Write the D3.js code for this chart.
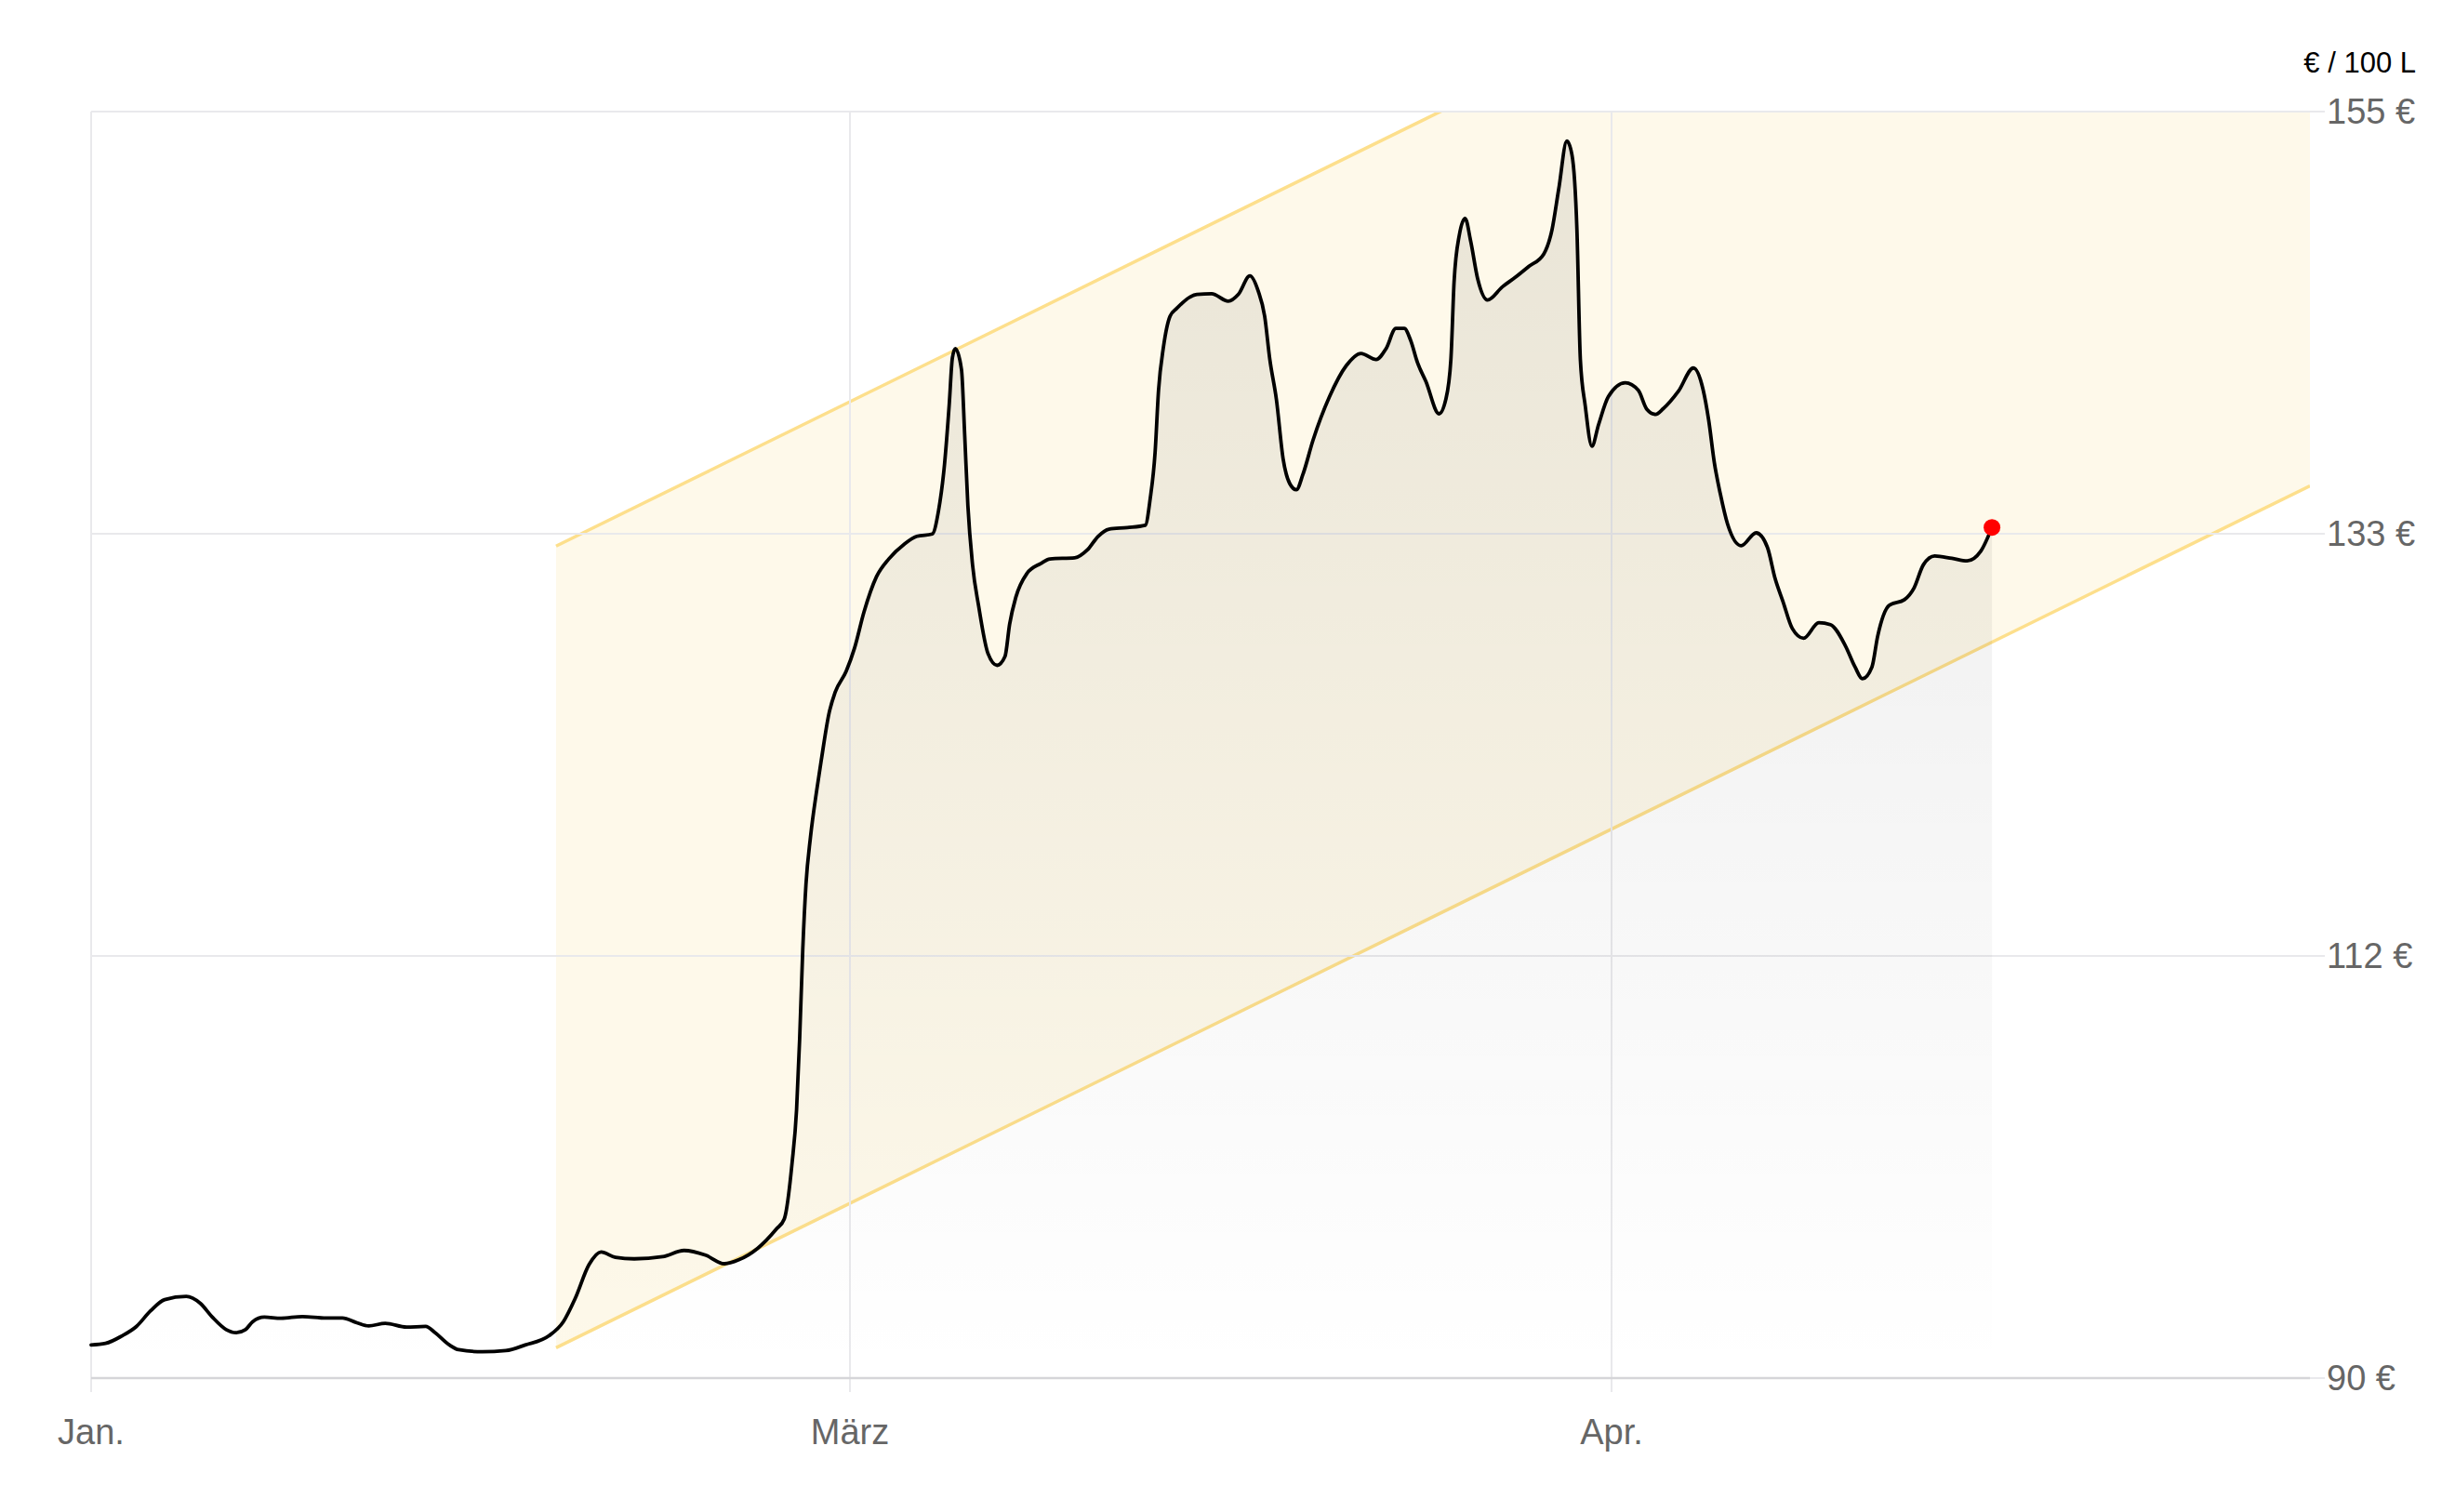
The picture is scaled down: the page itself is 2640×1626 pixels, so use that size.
<!DOCTYPE html>
<html><head><meta charset="utf-8">
<script src="https://cdn.jsdelivr.net/npm/d3@7"></script>
<style>
body{margin:0;background:#fff}
svg{display:block}
text{font-family:"Liberation Sans",Arial,sans-serif}
</style>
</head><body>
<svg id="chart" width="2640" height="1626"></svg>
<script>
// ---- data (day index since 1 Jan, price in € / 100 L) ----
const days = [0,1.12,2.41,3.52,4.62,5.72,7.40,8.48,9.42,10.50,11.26,12.00,12.55,13.47,14.76,16.43,18.26,19.54,20.66,21.58,22.87,24.52,26.01,26.75,27.86,28.57,30.42,32.25,33.75,35.59,36.71,37.63,38.72,39.65,40.76,42.23,44.44,46.10,47.77,49.24,50.35,51.82,53.29,53.89,54.50,54.85,55.09,55.33,55.58,55.93,56.42,56.77,57.38,57.85,58.71,59.19,59.57,60.08,60.58,61.21,61.72,62.35,62.60,62.85,63.04,63.17,63.29,63.54,63.67,63.80,63.99,64.24,64.62,64.99,65.31,65.50,65.75,66.20,66.76,67.14,68.15,68.66,69.10,69.54,70.29,71.02,71.22,71.42,71.56,71.76,72.03,72.30,73.12,73.72,74.40,74.81,75.28,75.62,75.88,76.09,76.36,76.63,76.90,77.17,77.44,77.85,78.52,79.20,79.80,80.42,80.82,81.22,81.56,81.83,82.10,82.44,82.98,83.25,83.46,83.59,83.80,84.04,84.27,84.55,84.95,85.56,86.09,86.63,87.24,87.58,87.85,88.18,88.39,88.59,88.73,88.93,89.20,89.47,89.87,90.56,91.09,91.43,91.79,92.10,92.72,93.33,93.72,93.95,94.18,94.42,94.72,95.27,95.88,96.34,96.65,96.97,97.35,97.81,98.43,98.90,99.51,99.90,100.20,100.59,100.82,101.29,101.91,102.30,102.68,103.14,103.84,104.46,105.01,105.47];
const prices = [91.70,91.78,92.17,92.65,93.45,94.03,94.19,93.84,93.13,92.49,92.33,92.49,92.89,93.13,93.07,93.16,93.08,93.08,92.84,92.68,92.81,92.62,92.65,92.33,91.70,91.46,91.35,91.41,91.70,92.17,92.89,94.08,95.83,96.47,96.20,96.12,96.23,96.55,96.31,95.87,96.07,96.66,97.66,98.16,101.04,103.78,107.43,111.98,115.33,117.76,120.19,121.71,124.14,125.20,126.28,127.48,129.31,131.13,132.04,132.80,133.20,133.32,134.48,136.91,139.95,142.37,142.83,141.76,138.42,134.78,131.74,129.61,127.18,126.58,127.03,128.70,130.07,131.29,131.80,132.04,132.10,132.50,133.20,133.57,133.65,133.77,135.12,137.50,140.69,142.91,144.50,144.90,145.62,145.65,145.27,145.62,146.57,145.78,144.50,142.28,140.21,137.19,135.91,135.59,136.39,138.14,140.37,141.96,142.59,142.28,142.83,143.87,143.87,143.23,142.12,141.16,139.49,140.21,142.28,146.26,148.64,149.52,148.32,146.42,145.33,146.01,146.50,147.05,147.69,148.96,151.03,153.49,152.77,148.96,142.28,139.89,137.83,138.93,140.37,141.08,140.69,139.73,139.46,139.75,140.65,141.84,140.74,139.16,136.98,135.40,133.82,132.72,133.38,132.63,131.04,129.86,128.47,127.97,128.77,128.67,127.58,126.50,125.89,126.50,128.07,129.66,129.95,130.55,131.74,132.19,132.07,131.94,132.43,133.66];

const xTickDays = [0, 59, 90];
const xTickLabels = ["Jan.", "März", "Apr."];
const xDomain = [0, 59, 90, 118.4];
const yDomain = [90, 155];
const yTicks = [90, 90 + 65/3, 90 + 130/3, 155];
const unitLabel = "€ / 100 L";

// trend channel: [day, lower value], upper = lower + width
const channelDays = [36.15, 118.4];
const channelLower = [91.56, 135.79];
const channelUpper = [132.70, 176.93];

// ---- layout ----
const L = 98, R = 2484, T = 120, B = 1482;
const svg = d3.select("#chart");

const x = d3.scaleLinear().domain(xDomain).range([L, 914, 1733, R]);
const y = d3.scaleLinear().domain(yDomain).range([B, T]);

const defs = svg.append("defs");
defs.append("clipPath").attr("id", "plotclip")
  .append("rect").attr("x", L).attr("y", T).attr("width", R - L).attr("height", B - T);
const grad = defs.append("linearGradient").attr("id", "areaGrad")
  .attr("gradientUnits", "userSpaceOnUse").attr("x1", 0).attr("x2", 0).attr("y1", T).attr("y2", B);
grad.append("stop").attr("offset", 0).attr("stop-color", "#000").attr("stop-opacity", 0.085);
grad.append("stop").attr("offset", 1).attr("stop-color", "#000").attr("stop-opacity", 0.0);

// ---- channel fill ----
const chan = channelDays.map((d, i) => ({d, lo: channelLower[i], hi: channelUpper[i]}));
const gBand = svg.append("g").attr("clip-path", "url(#plotclip)");
gBand.append("path").datum(chan)
  .attr("d", d3.area().x(p => x(p.d)).y0(p => y(p.lo)).y1(p => y(p.hi)))
  .attr("fill", "rgb(250,220,130)").attr("fill-opacity", 0.17);

// ---- grid ----
const gGrid = svg.append("g");
gGrid.selectAll("line.h").data(yTicks).join("line")
  .attr("x1", L).attr("x2", 2500).attr("y1", d => y(d)).attr("y2", d => y(d))
  .attr("stroke", "#e9e9ec").attr("stroke-width", 2);
gGrid.selectAll("line.v").data(xTickDays).join("line")
  .attr("x1", d => x(d)).attr("x2", d => x(d)).attr("y1", T).attr("y2", 1497)
  .attr("stroke", "#e9e9ec").attr("stroke-width", 2);
gGrid.append("line").attr("x1", L).attr("x2", R).attr("y1", y(90)).attr("y2", y(90))
  .attr("stroke", "#d5d5d8").attr("stroke-width", 2.5);

// ---- channel lines ----
["lo", "hi"].forEach(k => {
  gBand.append("path").datum(chan)
    .attr("d", d3.line().x(p => x(p.d)).y(p => y(p[k])))
    .attr("fill", "none").attr("stroke", "#fddf8c").attr("stroke-width", 3.5);
});

// ---- area + line ----
const data = d3.zip(days, prices).map(([d, v]) => ({d, v}));
const curve = d3.curveMonotoneX;
svg.append("path").datum(data)
  .attr("d", d3.area().curve(curve).x(p => x(p.d)).y0(y(90)).y1(p => y(p.v)))
  .attr("fill", "url(#areaGrad)");
svg.append("path").datum(data)
  .attr("d", d3.line().curve(curve).x(p => x(p.d)).y(p => y(p.v)))
  .attr("fill", "none").attr("stroke", "#000").attr("stroke-width", 3.8)
  .attr("stroke-linejoin", "round").attr("stroke-linecap", "round");

const last = data[data.length - 1];
svg.append("circle").attr("cx", x(last.d)).attr("cy", y(last.v)).attr("r", 9).attr("fill", "#ff0000");

// ---- axes labels ----
svg.append("g").selectAll("text").data(yTicks).join("text")
  .attr("x", 2502).attr("y", d => y(d)).attr("dy", "0.33em")
  .attr("font-size", 38).attr("fill", "#666")
  .text(d => Math.round(d) + " €");

svg.append("g").selectAll("text").data(xTickDays).join("text")
  .attr("x", d => x(d)).attr("y", 1553).attr("text-anchor", "middle")
  .attr("font-size", 38).attr("fill", "#666")
  .text((d, i) => xTickLabels[i]);

svg.append("text").attr("x", 2598).attr("y", 78).attr("text-anchor", "end")
  .attr("font-size", 31).attr("fill", "#000").text(unitLabel);
</script>
</body></html>
